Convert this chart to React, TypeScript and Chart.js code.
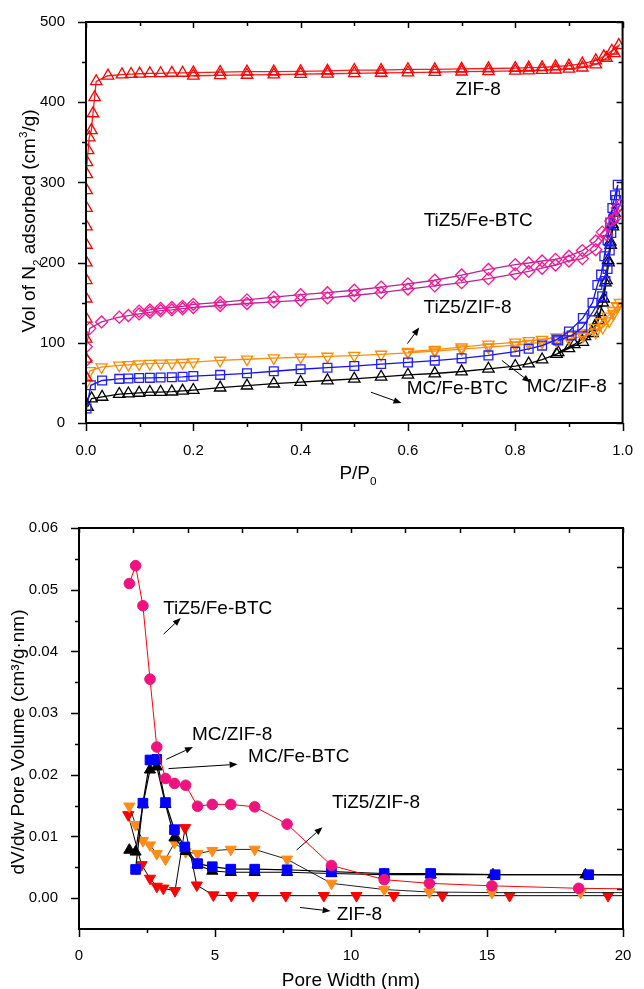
import React, { useEffect, useRef } from "react";
import { Chart, registerables } from "chart.js";

Chart.register(...registerables);

const FONT = "'Liberation Sans', Arial, Helvetica, sans-serif";

// ================= TOP PANEL: N2 isotherms (adsorption branch then desorption branch) =================
const zif8P = [0.0001, 0.0002, 0.0003, 0.0004, 0.0005, 0.0006, 0.0007, 0.0008, 0.0009, 0.001, 0.0012, 0.0015, 0.002, 0.004, 0.006, 0.01, 0.013, 0.016, 0.019, 0.041, 0.067, 0.084, 0.1, 0.119, 0.139, 0.16, 0.18, 0.2, 0.25, 0.3, 0.35, 0.4, 0.45, 0.5, 0.55, 0.6, 0.65, 0.7, 0.75, 0.8, 0.825, 0.85, 0.875, 0.9, 0.925, 0.95, 0.965, 0.98, 0.993,
  0.985, 0.97, 0.95, 0.925, 0.9, 0.875, 0.85, 0.825, 0.8, 0.75, 0.7, 0.65, 0.6, 0.55, 0.5, 0.45, 0.4, 0.35, 0.3, 0.25, 0.2];
const zif8V = [57, 80, 105, 130, 155, 178, 200, 222, 245, 268, 290, 310, 325, 340, 356, 365, 386, 406, 426, 433, 434.5, 435, 435.5, 436, 436, 436.5, 436.5, 437, 437.5, 438, 438, 438.5, 439, 440, 440, 441, 441, 441.5, 442, 442.5, 443, 443.5, 444.5, 445.5, 448, 452, 457, 464, 471,
  461, 455, 447, 443, 441.5, 440.5, 440, 439.5, 439, 438.5, 438, 437.5, 437, 436.5, 436, 435.5, 435, 434.5, 434, 433.5, 433];

const tiz5FeP = [0.0001, 0.0005, 0.007, 0.029, 0.062, 0.079, 0.099, 0.119, 0.139, 0.16, 0.18, 0.2, 0.25, 0.3, 0.35, 0.4, 0.45, 0.5, 0.55, 0.6, 0.65, 0.7, 0.75, 0.8, 0.825, 0.85, 0.875, 0.9, 0.925, 0.95, 0.97, 0.985, 0.995,
  0.99, 0.978, 0.962, 0.95, 0.925, 0.9, 0.875, 0.85, 0.825, 0.8, 0.75, 0.7, 0.65, 0.6, 0.55, 0.5, 0.45, 0.4, 0.35, 0.3, 0.25, 0.2, 0.18, 0.16, 0.139, 0.119, 0.099];
const tiz5FeV = [78, 95, 118, 126, 132, 134, 136, 138, 140, 141, 142.5, 144, 146.5, 149, 151, 153, 156, 159, 162.5, 167, 171, 175, 180, 186, 189, 193, 197, 202, 205, 216, 235, 255, 272,
  268, 252, 238, 227, 215, 208, 204, 202, 199.5, 197.5, 191.5, 184.5, 178, 173.5, 169.5, 165.5, 162.5, 160, 157, 153.5, 150.5, 148, 145.5, 144, 143, 141, 139.5];

const mcZifP = [0.001, 0.009, 0.03, 0.062, 0.079, 0.099, 0.119, 0.139, 0.16, 0.18, 0.2, 0.25, 0.3, 0.35, 0.4, 0.45, 0.5, 0.55, 0.6, 0.65, 0.7, 0.75, 0.8, 0.825, 0.85, 0.877, 0.9, 0.926, 0.944, 0.953, 0.96, 0.966, 0.972, 0.977, 0.981, 0.986, 0.991,
  0.988, 0.983, 0.979, 0.976, 0.972, 0.968, 0.962, 0.945, 0.925, 0.905, 0.88];
const mcZifV = [18, 47, 53, 55, 55.5, 56, 56.3, 56.7, 57, 57.6, 58.5, 60, 62, 64.5, 67, 69, 71, 73.5, 75.5, 77.8, 80.6, 84.3, 89, 92.5, 96.5, 104, 114, 131, 150, 172, 185, 208, 228, 250, 268, 284, 297,
  278, 255, 237, 215, 192, 177, 158, 139, 119, 109, 103];

const tiz5ZifP = [0.0003, 0.0073, 0.029, 0.062, 0.079, 0.099, 0.119, 0.139, 0.16, 0.18, 0.2, 0.25, 0.3, 0.35, 0.4, 0.45, 0.5, 0.55, 0.6, 0.65, 0.7, 0.75, 0.8, 0.825, 0.85, 0.877, 0.9, 0.926, 0.95, 0.963, 0.975, 0.983, 0.99, 0.995,
  0.99, 0.982, 0.972, 0.96, 0.948, 0.926, 0.9, 0.877, 0.85, 0.825, 0.8, 0.75, 0.7, 0.65, 0.6];
const tiz5ZifV = [50, 65, 69.7, 71.8, 72.6, 73.4, 74, 74.3, 74.7, 75.2, 75.9, 78, 79.5, 81, 82, 83, 84, 85.5, 87.5, 89.5, 92, 94.5, 97, 99, 100.5, 102.5, 105, 108, 113, 119, 127, 136, 146, 150,
  145, 140, 133, 126, 119, 112, 109, 107, 104, 102.5, 100.5, 98, 94.5, 91.5, 89];

const mcFeP = [0.003, 0.0104, 0.03, 0.062, 0.079, 0.099, 0.119, 0.139, 0.16, 0.18, 0.2, 0.25, 0.3, 0.35, 0.4, 0.45, 0.5, 0.55, 0.6, 0.65, 0.7, 0.75, 0.8, 0.825, 0.85, 0.877, 0.9, 0.926, 0.944, 0.955, 0.963, 0.968, 0.973, 0.977, 0.981, 0.985,
  0.982, 0.978, 0.974, 0.97, 0.965, 0.958, 0.948, 0.93, 0.91, 0.88];
const mcFeV = [20, 30.5, 32.5, 36, 36.7, 37.5, 38.5, 38.5, 39, 40, 41, 44, 46.5, 49, 51, 53, 55, 57.5, 60, 61.7, 64.2, 67.5, 71, 74, 79, 86, 93, 101, 112, 128, 150, 175, 203, 226, 248, 262,
  245, 222, 200, 178, 155, 138, 120, 108, 98, 88];

const topXMajor = [0, 0.2, 0.4, 0.6, 0.8, 1.0];
const topXMinor = [0.1, 0.3, 0.5, 0.7, 0.9];
const topYMajor = [0, 100, 200, 300, 400, 500];
const topYMinor = [50, 150, 250, 350, 450];

const topLabels = [
  { text: "ZIF-8", x: 0.731, y: 418 },
  { text: "TiZ5/Fe-BTC", x: 0.731, y: 254 },
  { text: "TiZ5/ZIF-8", x: 0.711, y: 146 },
  { text: "MC/Fe-BTC", x: 0.692, y: 44.6 },
  { text: "MC/ZIF-8", x: 0.896, y: 47 },
];
const topArrows = [
  { x1: 0.599, y1: 99, x2: 0.621, y2: 119 },
  { x1: 0.531, y1: 38.4, x2: 0.588, y2: 24.8 },
  { x1: 0.775, y1: 78, x2: 0.828, y2: 50.7 },
];

// ================= BOTTOM PANEL: pore size distribution =================
const psdTiFeW = [1.85, 2.08, 2.35, 2.61, 2.86, 3.18, 3.51, 3.92, 4.36, 4.9, 5.58, 6.46, 7.65, 9.28, 11.22, 12.88, 15.18, 18.37, 22];
const psdTiFeV = [0.051, 0.0539, 0.0474, 0.0355, 0.0245, 0.0194, 0.0186, 0.0183, 0.0149, 0.0152, 0.0152, 0.0148, 0.012, 0.0053, 0.003, 0.0024, 0.002, 0.0016, 0.0014];

const psdMcZifW = [2.08, 2.35, 2.61, 2.86, 3.18, 3.51, 3.89, 4.36, 4.9, 5.58, 6.46, 7.65, 9.28, 11.22, 12.93, 15.3, 18.74, 22];
const psdMcZifV = [0.00465, 0.0154, 0.0224, 0.0225, 0.0155, 0.0111, 0.0083, 0.0056, 0.0051, 0.0047, 0.0047, 0.0046, 0.0043, 0.004, 0.004, 0.0038, 0.0038, 0.0038];

const psdMcFeW = [1.85, 2.08, 2.35, 2.61, 2.86, 3.18, 3.51, 3.92, 4.36, 4.9, 5.58, 6.46, 7.65, 9.28, 11.22, 12.93, 15.22, 18.62, 22];
const psdMcFeV = [0.0078, 0.0075, 0.0152, 0.0208, 0.0213, 0.0152, 0.0098, 0.0076, 0.0054, 0.0044, 0.0042, 0.0042, 0.0042, 0.004, 0.0038, 0.0038, 0.0038, 0.0038, 0.0037];

const psdTiZifW = [1.85, 2.08, 2.35, 2.61, 2.86, 3.18, 3.51, 3.92, 4.36, 4.9, 5.58, 6.46, 7.65, 9.28, 11.22, 12.88, 15.18, 18.44, 22];
const psdTiZifV = [0.0149, 0.0119, 0.0093, 0.0086, 0.0072, 0.0063, 0.009, 0.0075, 0.0072, 0.0077, 0.0079, 0.0079, 0.0063, 0.0024, 0.0014, 0.001, 0.0009, 0.0009, 0.0009];

const psdZifW = [1.81, 2.3, 2.61, 2.86, 3.1, 3.53, 3.9, 4.33, 4.94, 5.6, 6.4, 7.6, 9.0, 10.2, 11.57, 13.36, 15.83, 19.45, 22];
const psdZifV = [0.0135, 0.0054, 0.0032, 0.0019, 0.0016, 0.0012, 0.0114, 0.0021, 0.0005, 0.0004, 0.0004, 0.0004, 0.0004, 0.0004, 0.0004, 0.0004, 0.0004, 0.0004, 0.0004];

const botXMajor = [0, 5, 10, 15, 20];
const botXMinor = [2.5, 7.5, 12.5, 17.5];
const botXTop = [0, 2, 4, 6, 8, 10, 12, 14, 16, 18, 20];
const botYMajor = [0, 0.01, 0.02, 0.03, 0.04, 0.05, 0.06];
const botYMinor = [0.005, 0.015, 0.025, 0.035, 0.045, 0.055];
const botYRight = [0.0015, 0.008, 0.0145, 0.021, 0.0276, 0.0341, 0.0406, 0.0471, 0.0536];

const botLabels = [
  { text: "TiZ5/Fe-BTC", x: 5.1, y: 0.0472 },
  { text: "MC/ZIF-8", x: 5.63, y: 0.0267 },
  { text: "MC/Fe-BTC", x: 8.08, y: 0.0232 },
  { text: "TiZ5/ZIF-8", x: 10.92, y: 0.0158 },
  { text: "ZIF-8", x: 10.31, y: -0.0024 },
];
const botArrows = [
  { x1: 3.11, y1: 0.0428, x2: 3.74, y2: 0.0454 },
  { x1: 3.21, y1: 0.0225, x2: 4.19, y2: 0.0245 },
  { x1: 3.29, y1: 0.021, x2: 5.83, y2: 0.0217 },
  { x1: 8.0, y1: 0.0078, x2: 8.95, y2: 0.0115 },
  { x1: 8.12, y1: -0.0015, x2: 9.25, y2: -0.0021 },
];

// ================= helpers =================
type Seg = { t: string; sub?: boolean; sup?: boolean };

function pts(xs: number[], ys: number[]) {
  return xs.map((x, i) => ({ x, y: ys[i] }));
}

function drawRich(ctx: CanvasRenderingContext2D, segs: Seg[], cx: number, cy: number, size: number, rotate: boolean) {
  ctx.save();
  ctx.translate(cx, cy);
  if (rotate) ctx.rotate(-Math.PI / 2);
  ctx.fillStyle = "#000";
  ctx.textBaseline = "alphabetic";
  ctx.textAlign = "left";
  const small = size * 0.62;
  const widths = segs.map((s) => {
    ctx.font = `${s.sub || s.sup ? small : size}px ${FONT}`;
    return ctx.measureText(s.t).width;
  });
  const total = widths.reduce((a, b) => a + b, 0);
  let x = -total / 2;
  const base = size * 0.36;
  segs.forEach((s, i) => {
    ctx.font = `${s.sub || s.sup ? small : size}px ${FONT}`;
    const dy = s.sub ? size * 0.3 : s.sup ? -size * 0.42 : 0;
    ctx.fillText(s.t, x, base + dy);
    x += widths[i];
  });
  ctx.restore();
}

type TickSet = { side: "bottom" | "top" | "left" | "right"; values: number[]; len: number; dir: "in" | "out" };
type Deco = {
  ticks: TickSet[];
  titles: { segs: Seg[]; x: number; y: number; rotate: boolean }[];
  labels: { text: string; x: number; y: number }[];
  arrows: { x1: number; y1: number; x2: number; y2: number }[];
};

function decoPlugin(cfg: Deco) {
  return {
    id: "deco",
    afterDraw(chart: any) {
      const ctx: CanvasRenderingContext2D = chart.ctx;
      const { left, right, top, bottom } = chart.chartArea;
      const xs = chart.scales.x;
      const ys = chart.scales.y;
      ctx.save();
      ctx.strokeStyle = "#000";
      ctx.lineWidth = 2;
      ctx.strokeRect(left, top, right - left, bottom - top);
      ctx.lineWidth = 1.5;
      cfg.ticks.forEach((t) => {
        const sgn = t.dir === "out" ? 1 : -1;
        t.values.forEach((v) => {
          ctx.beginPath();
          if (t.side === "bottom" || t.side === "top") {
            const px = Math.round(xs.getPixelForValue(v)) + 0.5;
            if (t.side === "bottom") {
              ctx.moveTo(px, bottom);
              ctx.lineTo(px, bottom + sgn * t.len);
            } else {
              ctx.moveTo(px, top);
              ctx.lineTo(px, top - sgn * t.len);
            }
          } else {
            const py = Math.round(ys.getPixelForValue(v)) + 0.5;
            if (t.side === "left") {
              ctx.moveTo(left, py);
              ctx.lineTo(left - sgn * t.len, py);
            } else {
              ctx.moveTo(right, py);
              ctx.lineTo(right + sgn * t.len, py);
            }
          }
          ctx.stroke();
        });
      });
      // arrows
      ctx.lineWidth = 1;
      ctx.fillStyle = "#000";
      cfg.arrows.forEach((a) => {
        const x1 = xs.getPixelForValue(a.x1), y1 = ys.getPixelForValue(a.y1);
        const x2 = xs.getPixelForValue(a.x2), y2 = ys.getPixelForValue(a.y2);
        const ang = Math.atan2(y2 - y1, x2 - x1);
        const hl = 8, hw = 3.2;
        const bx = x2 - hl * Math.cos(ang), by = y2 - hl * Math.sin(ang);
        ctx.beginPath();
        ctx.moveTo(x1, y1);
        ctx.lineTo(bx, by);
        ctx.stroke();
        ctx.beginPath();
        ctx.moveTo(x2, y2);
        ctx.lineTo(bx - hw * Math.sin(ang), by + hw * Math.cos(ang));
        ctx.lineTo(bx + hw * Math.sin(ang), by - hw * Math.cos(ang));
        ctx.closePath();
        ctx.fill();
      });
      ctx.restore();
      cfg.labels.forEach((l) => {
        drawRich(ctx, [{ t: l.text }], xs.getPixelForValue(l.x), ys.getPixelForValue(l.y), 19, false);
      });
      cfg.titles.forEach((t) => drawRich(ctx, t.segs, t.x, t.y, 19, t.rotate));
    },
  };
}

function lineDs(label: string, xs: number[], ys: number[], o: any) {
  return {
    label,
    data: pts(xs, ys),
    showLine: true,
    tension: 0,
    fill: false,
    borderWidth: o.lw ?? 1.3,
    borderColor: o.line,
    pointStyle: o.style,
    pointRotation: o.rot ?? 0,
    pointRadius: o.r ?? 6.5,
    pointBorderWidth: o.pbw ?? 1.3,
    pointBorderColor: o.pc,
    pointBackgroundColor: o.fill ?? "rgba(255,255,255,0)",
  };
}

const tickFont = { family: FONT, size: 15 };

function topConfig(): any {
  return {
    type: "scatter",
    data: {
      datasets: [
        lineDs("ZIF-8", zif8P, zif8V, { line: "#FF1A1A", pc: "#FF0000", style: "triangle", r: 6.6 }),
        lineDs("TiZ5/Fe-BTC", tiz5FeP, tiz5FeV, { line: "#B02898", pc: "#FF1493", style: "rectRot", r: 6 }),
        lineDs("MC/ZIF-8", mcZifP, mcZifV, { line: "#1010FF", pc: "#2020FF", style: "rect", r: 6.2 }),
        lineDs("TiZ5/ZIF-8", tiz5ZifP, tiz5ZifV, { line: "#FF8C10", pc: "#FF8C00", style: "triangle", rot: 180, r: 6.4 }),
        lineDs("MC/Fe-BTC", mcFeP, mcFeV, { line: "#000000", pc: "#000000", style: "triangle", r: 6.6 }),
      ],
    },
    options: {
      responsive: false,
      animation: false,
      devicePixelRatio: 1,
      events: [],
      layout: { padding: { top: 19, right: 12, left: 0, bottom: 0 } },
      plugins: { legend: { display: false }, tooltip: { enabled: false } },
      scales: {
        x: {
          type: "linear",
          min: 0,
          max: 1,
          grid: { display: false },
          border: { display: false },
          afterBuildTicks: (s: any) => { s.ticks = topXMajor.map((v) => ({ value: v })); },
          afterFit: (s: any) => { s.height = 67; },
          ticks: { padding: 11, color: "#000", font: tickFont, maxRotation: 0, autoSkip: false, callback: (v: any) => Number(v).toFixed(1) },
        },
        y: {
          type: "linear",
          min: 0,
          max: 500,
          grid: { display: false },
          border: { display: false },
          afterBuildTicks: (s: any) => { s.ticks = topYMajor.map((v) => ({ value: v })); },
          afterFit: (s: any) => { s.width = 86; },
          ticks: { padding: 13, color: "#000", font: tickFont, autoSkip: false, callback: (v: any) => String(v) },
        },
      },
    },
    plugins: [
      decoPlugin({
        ticks: [
          { side: "bottom", values: topXMajor, len: 8, dir: "out" },
          { side: "bottom", values: topXMinor, len: 4, dir: "out" },
          { side: "top", values: topXMajor, len: 6, dir: "in" },
          { side: "top", values: topXMinor, len: 4, dir: "in" },
          { side: "left", values: topYMajor, len: 8, dir: "out" },
          { side: "left", values: topYMinor, len: 4, dir: "out" },
          { side: "right", values: topYMajor, len: 6, dir: "in" },
          { side: "right", values: topYMinor, len: 4, dir: "in" },
        ],
        titles: [
          { segs: [{ t: "Vol of N" }, { t: "2", sub: true }, { t: " adsorbed (cm" }, { t: "3", sup: true }, { t: "/g)" }], x: 28, y: 221, rotate: true },
          { segs: [{ t: "P/P" }, { t: "0", sub: true }], x: 358, y: 472, rotate: false },
        ],
        labels: topLabels,
        arrows: topArrows,
      }),
    ],
  };
}

function botConfig(): any {
  return {
    type: "scatter",
    data: {
      datasets: [
        lineDs("TiZ5/Fe-BTC", psdTiFeW, psdTiFeV, { line: "#FF0000", lw: 1, pc: "#F0127F", fill: "#F0127F", style: "circle", r: 5.3, pbw: 1 }),
        lineDs("MC/ZIF-8", psdMcZifW, psdMcZifV, { line: "#000000", lw: 1.2, pc: "#0000FF", fill: "#0000FF", style: "rect", r: 6.8, pbw: 1 }),
        lineDs("MC/Fe-BTC", psdMcFeW, psdMcFeV, { line: "#000000", lw: 1.2, pc: "#000000", fill: "#000000", style: "triangle", r: 6.4, pbw: 1 }),
        lineDs("TiZ5/ZIF-8", psdTiZifW, psdTiZifV, { line: "#222222", lw: 1, pc: "#FF8C1A", fill: "#FF8C1A", style: "triangle", rot: 180, r: 6.4, pbw: 1 }),
        lineDs("ZIF-8", psdZifW, psdZifV, { line: "#000000", lw: 1, pc: "#FF0000", fill: "#FF0000", style: "triangle", rot: 180, r: 6.4, pbw: 1 }),
      ],
    },
    options: {
      responsive: false,
      animation: false,
      devicePixelRatio: 1,
      events: [],
      layout: { padding: { top: 38, right: 21, left: 0, bottom: 0 } },
      plugins: { legend: { display: false }, tooltip: { enabled: false } },
      scales: {
        x: {
          type: "linear",
          min: 0,
          max: 20,
          grid: { display: false },
          border: { display: false },
          afterBuildTicks: (s: any) => { s.ticks = botXMajor.map((v) => ({ value: v })); },
          afterFit: (s: any) => { s.height = 60; },
          ticks: { padding: 10, color: "#000", font: tickFont, maxRotation: 0, autoSkip: false, callback: (v: any) => String(v) },
        },
        y: {
          type: "linear",
          min: -0.005,
          max: 0.06,
          grid: { display: false },
          border: { display: false },
          afterBuildTicks: (s: any) => { s.ticks = botYMajor.map((v) => ({ value: v })); },
          afterFit: (s: any) => { s.width = 79; },
          ticks: { padding: 13, color: "#000", font: tickFont, autoSkip: false, callback: (v: any) => Number(v).toFixed(2) },
        },
      },
    },
    plugins: [
      decoPlugin({
        ticks: [
          { side: "bottom", values: botXMajor, len: 8, dir: "out" },
          { side: "bottom", values: botXMinor, len: 4, dir: "out" },
          { side: "top", values: botXTop, len: 5, dir: "in" },
          { side: "left", values: botYMajor, len: 8, dir: "out" },
          { side: "left", values: botYMinor, len: 4, dir: "out" },
          { side: "right", values: botYRight, len: 6, dir: "in" },
        ],
        titles: [
          { segs: [{ t: "dV/dw Pore Volume (cm³/g·nm)" }], x: 17, y: 252, rotate: true },
          { segs: [{ t: "Pore Width (nm)" }], x: 351, y: 489, rotate: false },
        ],
        labels: botLabels,
        arrows: botArrows,
      }),
    ],
  };
}

function ChartCanvas({ build, width, height, top }: { build: () => any; width: number; height: number; top: number }) {
  const ref = useRef<HTMLCanvasElement>(null);
  useEffect(() => {
    Chart.defaults.font.family = FONT;
    const chart = new Chart(ref.current as HTMLCanvasElement, build());
    return () => chart.destroy();
  }, []);
  return (
    <canvas
      ref={ref}
      width={width}
      height={height}
      style={{ position: "absolute", left: 0, top, width, height, display: "block" }}
    />
  );
}

export default function App() {
  return (
    <div style={{ position: "absolute", left: 0, top: 0, width: 644, height: 989, background: "#fff", overflow: "hidden" }}>
      <ChartCanvas build={topConfig} width={644} height={490} top={0} />
      <ChartCanvas build={botConfig} width={644} height={499} top={490} />
    </div>
  );
}
